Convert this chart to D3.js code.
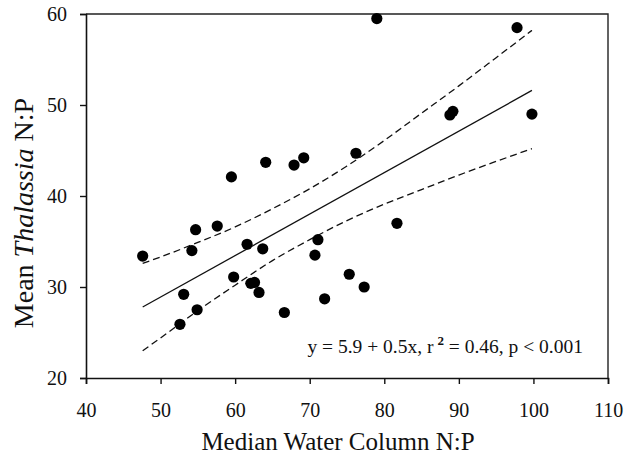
<!DOCTYPE html>
<html>
<head>
<meta charset="utf-8">
<script src="https://cdn.jsdelivr.net/npm/d3@7"></script>
<style>
  html, body { margin: 0; padding: 0; background: #fff; }
  svg { display: block; font-family: "Liberation Serif", "Times New Roman", serif; }
</style>
</head>
<body>
<svg id="chart" width="633" height="455"></svg>
<script>
// ---- data ----
const waterNP = [47.6, 54.2, 54.7, 57.6, 59.5, 64.1, 61.6, 63.7, 59.8, 62.1, 62.6, 63.2, 53.1, 54.9, 52.6,
                 66.6, 67.9, 69.2, 76.2, 71.1, 70.7, 75.3, 77.3, 72.0, 81.7, 79.0, 97.8, 88.8, 89.2, 99.8];
const thalassiaNP = [33.4, 34.0, 36.3, 36.7, 42.1, 43.7, 34.7, 34.2, 31.1, 30.4, 30.5, 29.4, 29.2, 27.5, 25.9,
                     27.2, 43.4, 44.2, 44.7, 35.2, 33.5, 31.4, 30.0, 28.7, 37.0, 59.5, 58.5, 48.9, 49.3, 49.0];
const fitX = [47.6, 99.8];
const fitY = [27.8, 51.6];
const bandX = [47.6, 50, 55, 60, 65, 70, 75, 80, 85, 90, 95, 99.8];
const bandUpper = [32.6, 33.3, 34.9, 36.6, 38.6, 40.8, 43.3, 46.1, 49.1, 52.1, 55.2, 58.2];
const bandLower = [23.0, 24.4, 27.4, 30.2, 32.9, 35.2, 37.3, 39.1, 40.7, 42.3, 43.8, 45.2];
const xTicks = [40, 50, 60, 70, 80, 90, 100, 110];
const yTicks = [20, 30, 40, 50, 60];
const xTitle = "Median Water Column N:P";
const yTitleParts = ["Mean ", "Thalassia", " N:P"];

// ---- layout ----
const W = 633, H = 455;
const m = { left: 86, right: 25, top: 14, bottom: 77 };
const iw = W - m.left - m.right, ih = H - m.top - m.bottom;

const svg = d3.select("#chart");
const g = svg.append("g").attr("transform", `translate(${m.left},${m.top})`);

const x = d3.scaleLinear().domain([40, 110]).range([0, iw]);
const y = d3.scaleLinear().domain([20, 60]).range([ih, 0]);

// frame (top & right)
g.append("path")
  .attr("d", `M0,0H${iw}V${ih}`)
  .attr("fill", "none").attr("stroke", "#222").attr("stroke-width", 1.4);

// axes
const xAxis = g.append("g").attr("transform", `translate(0,${ih})`)
  .call(d3.axisBottom(x).tickValues(xTicks).tickSize(6).tickPadding(19).tickFormat(d3.format("d")));
const yAxis = g.append("g")
  .call(d3.axisLeft(y).tickValues(yTicks).tickSize(6).tickPadding(13).tickFormat(d3.format("d")));
[xAxis, yAxis].forEach(a => {
  a.select(".domain").attr("stroke", "#111").attr("stroke-width", 1.6);
  a.selectAll(".tick line").attr("stroke", "#111").attr("stroke-width", 1.4);
  a.selectAll(".tick text").attr("fill", "#111").style("font-size", "20px")
    .style("font-family", '"Liberation Serif", "Times New Roman", serif');
});

// confidence band lines
const line = d3.line().x(d => x(d[0])).y(d => y(d[1])).curve(d3.curveMonotoneX);
[bandUpper, bandLower].forEach(arr => {
  g.append("path")
    .attr("d", line(bandX.map((v, i) => [v, arr[i]])))
    .attr("fill", "none").attr("stroke", "#111").attr("stroke-width", 1.3)
    .attr("stroke-dasharray", "7,4");
});

// regression line
g.append("path")
  .attr("d", d3.line().x(d => x(d[0])).y(d => y(d[1]))(fitX.map((v, i) => [v, fitY[i]])))
  .attr("fill", "none").attr("stroke", "#111").attr("stroke-width", 1.3);

// points
g.selectAll("circle.pt").data(waterNP.map((v, i) => [v, thalassiaNP[i]]))
  .join("circle").attr("class", "pt")
  .attr("cx", d => x(d[0])).attr("cy", d => y(d[1])).attr("r", 5.6)
  .attr("fill", "#000");

// annotation
const ann = g.append("text")
  .attr("x", x(69.7)).attr("y", y(22.75))
  .attr("fill", "#111").style("font-size", "19.5px");
ann.append("tspan").text("y = 5.9 + 0.5x, r");
ann.append("tspan").attr("dx", 4).attr("dy", -8).style("font-size", "13px").style("font-weight", "bold").text("2");
ann.append("tspan").attr("dy", 8).text(" = 0.46, p < 0.001");

// axis titles
svg.append("text")
  .attr("x", 338).attr("y", 450)
  .attr("text-anchor", "middle").attr("fill", "#111")
  .style("font-size", "25px").text(xTitle);

const yt = svg.append("text")
  .attr("transform", `translate(33,213) rotate(-90)`)
  .attr("text-anchor", "middle").attr("fill", "#111")
  .style("font-size", "28px");
yt.append("tspan").text(yTitleParts[0]);
yt.append("tspan").style("font-style", "italic").text(yTitleParts[1]);
yt.append("tspan").text(yTitleParts[2]);
</script>
</body>
</html>
